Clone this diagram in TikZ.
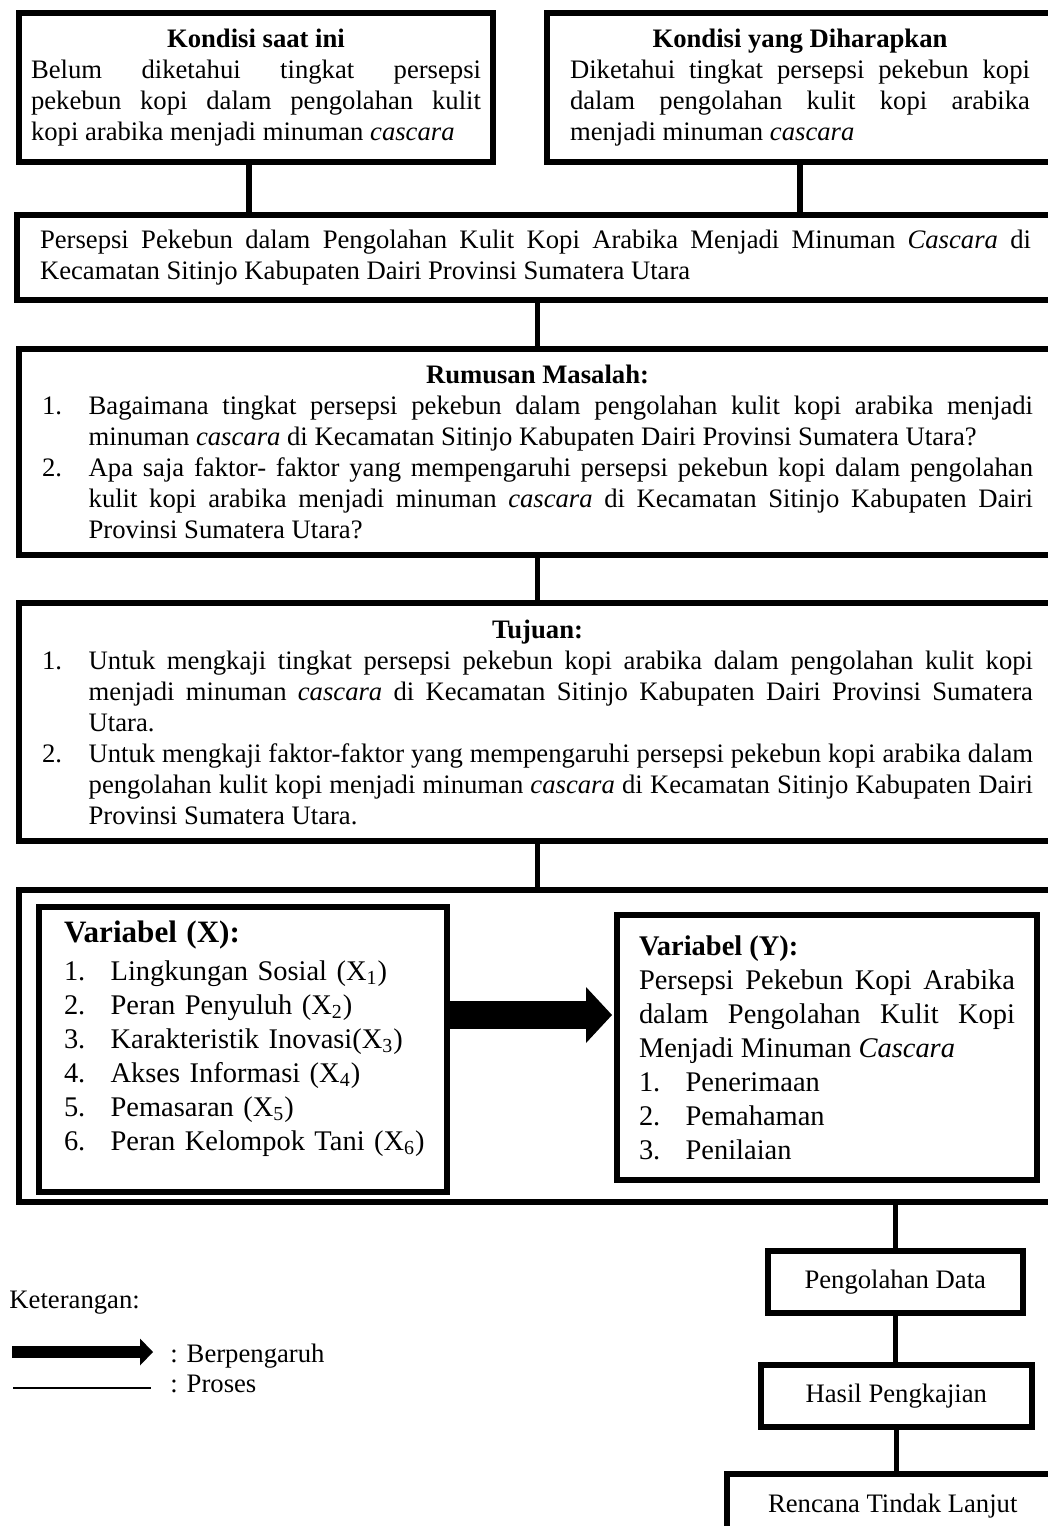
\documentclass[tikz,border=0pt]{standalone}
\usepackage{fontspec}
\setmainfont{Liberation Serif}
\usetikzlibrary{arrows.meta}
\hyphenpenalty=10000
\exhyphenpenalty=10000
\tolerance=10000
\newcommand{\butir}[2]{\par\noindent\hangindent=21pt\hangafter=1\makebox[21pt][l]{#1}#2\par}
\begin{document}
\begin{tikzpicture}[
      x=0.45pt, y=-0.45pt,
      every node/.style={font=\fontsize{12}{13.95}\selectfont},
      kotak/.style={draw, line width=2.7pt, inner sep=0pt, anchor=north west, align=justify},
      kecil/.style={draw, line width=2.5pt, inner sep=0pt, anchor=north west, align=center},
      besar/.style={font=\fontsize{12.8}{15.3}\selectfont},
      garis/.style={line width=2.3pt},
      panah/.style={line width=12.6pt, -{Triangle[length=11.7pt, width=25.2pt, line width=0pt]}}
    ]
    \useasboundingbox (0,0) rectangle (1048,1526);
    \clip (0,0) rectangle (1048,1526);

    % Kondisi saat ini dan kondisi yang diharapkan
    \node[kotak, minimum width=213.3pt, minimum height=67.05pt, text width=202.5pt] (kini) at (16,10)
      {\centerline{\textbf{Kondisi saat ini}}
       Belum diketahui tingkat persepsi \linebreak pekebun kopi dalam pengolahan kulit \linebreak kopi arabika menjadi minuman \textit{cascara}};
    \node[kotak, minimum width=227.7pt, minimum height=67.05pt, text width=207pt] (harap) at (544,10)
      {\centerline{\textbf{Kondisi yang Diharapkan}}
       Diketahui tingkat persepsi pekebun kopi \linebreak dalam pengolahan kulit kopi arabika \linebreak menjadi minuman \textit{cascara}};

    % Judul
    \node[kotak, minimum width=466.65pt, minimum height=38.25pt, text width=445.95pt] (judul) at (14,212)
      {Persepsi Pekebun dalam Pengolahan Kulit Kopi Arabika Menjadi Minuman \textit{Cascara} di \linebreak Kecamatan Sitinjo Kabupaten Dairi Provinsi Sumatera Utara};

    % Rumusan masalah
    \node[kotak, minimum width=466.65pt, minimum height=92.7pt, text width=445.95pt] (rumusan) at (16,346)
      {\centerline{\textbf{Rumusan Masalah:}}
       \butir{1.}{Bagaimana tingkat persepsi pekebun dalam pengolahan kulit kopi arabika menjadi \linebreak minuman \textit{cascara} di Kecamatan Sitinjo Kabupaten Dairi Provinsi Sumatera Utara?}
       \butir{2.}{Apa saja faktor- faktor yang mempengaruhi persepsi pekebun kopi dalam pengolahan \linebreak kulit kopi arabika menjadi minuman \textit{cascara} di Kecamatan Sitinjo Kabupaten Dairi \linebreak Provinsi Sumatera Utara?}};

    % Tujuan
    \node[kotak, minimum width=466.65pt, minimum height=107.1pt, text width=445.95pt] (tujuan) at (16,600)
      {\centerline{\textbf{Tujuan:}}
       \butir{1.}{Untuk mengkaji tingkat persepsi pekebun kopi arabika dalam pengolahan kulit kopi \linebreak menjadi minuman \textit{cascara} di Kecamatan Sitinjo Kabupaten Dairi Provinsi Sumatera \linebreak Utara.}
       \butir{2.}{Untuk mengkaji faktor-faktor yang mempengaruhi persepsi pekebun kopi arabika dalam \linebreak pengolahan kulit kopi menjadi minuman \textit{cascara} di Kecamatan Sitinjo Kabupaten Dairi \linebreak Provinsi Sumatera Utara.}};

    % Variabel X dan Y
    \node[kotak, minimum width=469.8pt, minimum height=140.4pt] (kerangka) at (16,887) {};
    \node[kotak, besar, minimum width=183.6pt, minimum height=128.25pt, text width=161.1pt, align=left] (varx) at (36,904)
      {{\fontsize{14}{16}\selectfont\bfseries Variabel (X):\par}
       \vspace{1.8pt}
       \butir{1.}{Lingkungan Sosial (X\textsubscript{1})}
       \butir{2.}{Peran Penyuluh (X\textsubscript{2})}
       \butir{3.}{Karakteristik Inovasi(X\textsubscript{3})}
       \butir{4.}{Akses Informasi (X\textsubscript{4})}
       \butir{5.}{Pemasaran (X\textsubscript{5})}
       \butir{6.}{\mbox{Peran Kelompok Tani (X\textsubscript{6})}\rule[-12pt]{0pt}{0pt}}};
    \node[kotak, besar, minimum width=189pt, minimum height=119.25pt, text width=169.2pt] (vary) at (614,912)
      {\textbf{Variabel (Y):}\par
       Persepsi Pekebun Kopi Arabika \linebreak dalam Pengolahan Kulit Kopi \linebreak Menjadi Minuman \textit{Cascara}\par
       \butir{1.}{Penerimaan}
       \butir{2.}{Pemahaman}
       \butir{3.}{Penilaian}};
    \coordinate (pa) at (448,1015);
    \coordinate (pb) at (612,1015);
    \draw[panah] (pa) -- (pb);

    % Tahap akhir
    \node[kecil, minimum width=114.75pt, minimum height=27.9pt] (olah) at (765,1248) {Pengolahan Data};
    \node[kecil, minimum width=121.95pt, minimum height=27.9pt] (hasil) at (758,1362) {Hasil Pengkajian};
    \node[kecil, minimum width=149.4pt, minimum height=28.8pt] (rencana) at (724,1471) {Rencana Tindak Lanjut};

    % Garis proses
    \draw[garis] ([xshift=-3.15pt]kini.south) -- ([xshift=-3.15pt]kini.south |- judul.north);
    \draw[garis] (harap.south) -- (harap.south |- judul.north);
    \draw[garis] (rumusan.north) -- (rumusan.north |- judul.south);
    \draw[garis] (rumusan.south) -- (rumusan.south |- tujuan.north);
    \draw[garis] (tujuan.south) -- (tujuan.south |- kerangka.north);
    \draw[garis] (olah.north |- kerangka.south) -- (olah.north);
    \draw[garis] (olah.south) -- (olah.south |- hasil.north);
    \draw[garis] (hasil.south) -- (hasil.south |- rencana.north);

    % Keterangan
    \node[anchor=base west, inner sep=0pt] (ket) at (9,1308) {Keterangan:};
    \coordinate (ka) at (12,1352);
    \coordinate (kb) at (153,1352);
    \draw[line width=5.4pt, -{Triangle[length=5.85pt, width=12.15pt, line width=0pt]}] (ka) -- (kb);
    \node[anchor=base west, inner sep=0pt] (pengaruh) at (170,1362) {: Berpengaruh};
    \coordinate (la) at (13,1388);
    \coordinate (lb) at (151,1388);
    \draw[line width=0.9pt] (la) -- (lb);
    \node[anchor=base west, inner sep=0pt] (proses) at (170,1392) {: Proses};
  \end{tikzpicture}
\end{document}
